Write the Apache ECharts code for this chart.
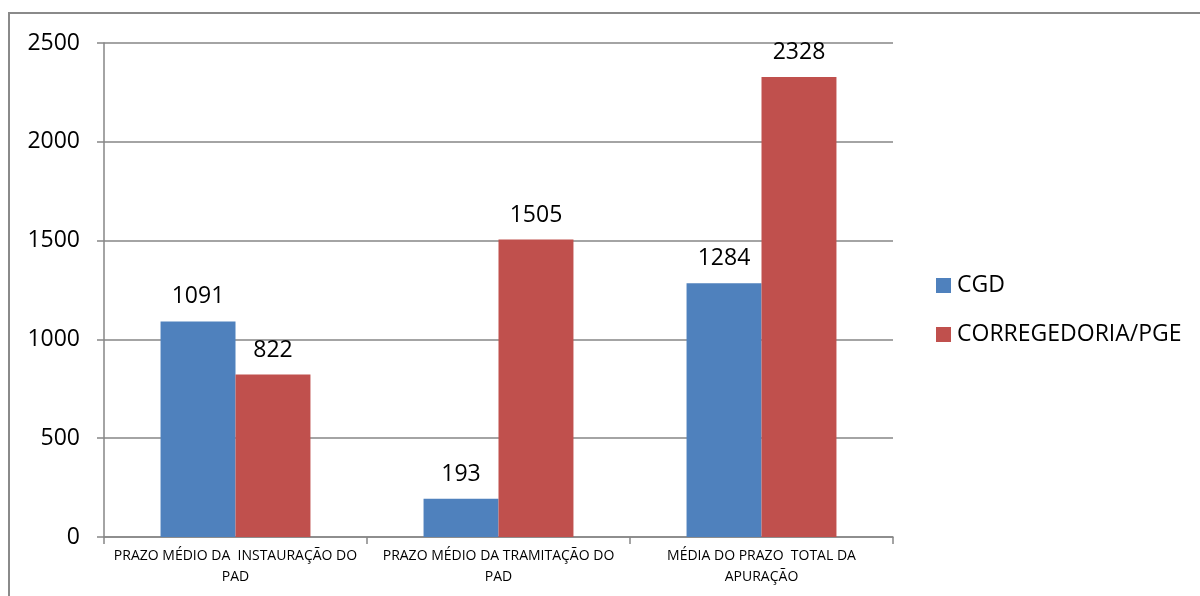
<!DOCTYPE html>
<html>
<head>
<meta charset="utf-8">
<script src="https://cdn.jsdelivr.net/npm/echarts@6/dist/echarts.min.js"></script>
<style>
  html, body { margin: 0; padding: 0; background: #fff; }
  #chart { width: 1200px; height: 596px; }
</style>
</head>
<body>
<div id="chart"></div>
<script>
// Average processing times (days) per stage of the disciplinary process
const categories = [
  'PRAZO MÉDIO DA  INSTAURAÇÃO DO\nPAD',
  'PRAZO MÉDIO DA TRAMITAÇÃO DO\nPAD',
  'MÉDIA DO PRAZO  TOTAL DA\nAPURAÇÃO'
];
const cgdValues = [1091, 193, 1284];
const pgeValues = [822, 1505, 2328];
const seriesNames = ['CGD', 'CORREGEDORIA/PGE'];

const font = '"Open Sans", sans-serif';
const axisGray = '#868686';

const chart = echarts.init(document.getElementById('chart'));
chart.setOption({
  animation: false,
  backgroundColor: '#fff',
  textStyle: { fontFamily: font },
  graphic: [{
    type: 'rect',
    shape: { x: 9, y: 13, width: 1400, height: 800 },
    style: { fill: 'none', stroke: '#8a8a8a', lineWidth: 2 },
    silent: true
  }],
  grid: { left: 104, right: 307, top: 43, bottom: 59 },
  legend: {
    orient: 'vertical',
    left: 931,
    top: 269,
    itemWidth: 15,
    itemHeight: 15,
    itemGap: 26,
    icon: 'rect',
    textStyle: { fontSize: 23, color: '#000', fontFamily: font, padding: [0, 0, 0, 1] },
    data: seriesNames
  },
  xAxis: {
    type: 'category',
    data: categories,
    axisLine: { lineStyle: { color: axisGray, width: 1.5 } },
    axisTick: { show: true, length: 7, interval: 0, lineStyle: { color: axisGray, width: 1.5 } },
    axisLabel: {
      interval: 0,
      color: '#000',
      fontSize: 14,
      lineHeight: 21,
      margin: 9,
      fontFamily: font
    }
  },
  yAxis: {
    type: 'value',
    min: 0,
    max: 2500,
    interval: 500,
    axisLine: { show: true, lineStyle: { color: axisGray, width: 1.5 } },
    axisTick: { show: true, length: 7, lineStyle: { color: axisGray, width: 1.5 } },
    splitLine: { lineStyle: { color: axisGray, width: 1.5 } },
    axisLabel: {
      color: '#000', fontSize: 23, margin: 24, fontFamily: font,
      formatter: v => String(v)
    }
  },
  series: [
    {
      name: seriesNames[0],
      type: 'bar',
      data: cgdValues,
      barGap: '0%',
      barCategoryGap: '43%',
      itemStyle: { color: '#4F81BD' },
      label: { show: true, position: 'top', distance: 13, color: '#000', fontSize: 23, fontFamily: font }
    },
    {
      name: seriesNames[1],
      type: 'bar',
      data: pgeValues,
      barGap: '0%',
      barCategoryGap: '43%',
      itemStyle: { color: '#C0504D' },
      label: { show: true, position: 'top', distance: 13, color: '#000', fontSize: 23, fontFamily: font }
    }
  ]
});
</script>
</body>
</html>
